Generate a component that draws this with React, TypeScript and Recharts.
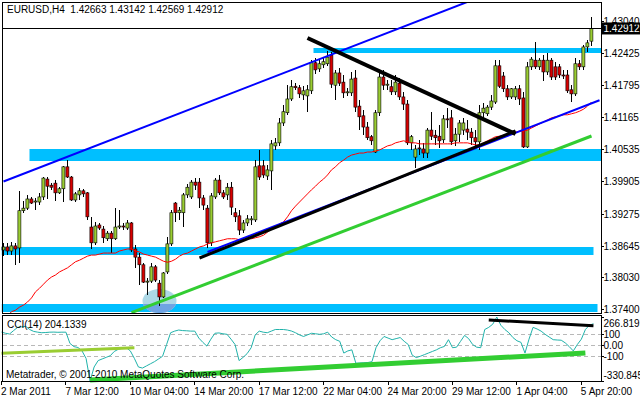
import React from 'react';
import {
  ComposedChart,
  Bar,
  Line,
  XAxis,
  YAxis,
  ReferenceLine,
  ReferenceArea,
  ReferenceDot,
} from 'recharts';

// EURUSD H4 candles, 2 Mar - 5 Apr 2011 (one entry per bar)
const opens = [
  1.3857, 1.3863, 1.3855, 1.3865, 1.3861, 1.3934, 1.3939, 1.3957, 1.3951, 1.3951,
  1.3961, 1.3996, 1.3984, 1.3988, 1.3969, 1.3977, 1.4020, 1.4000, 1.3955, 1.3965,
  1.3973, 1.3969, 1.3902, 1.3871, 1.3906, 1.3898, 1.3879, 1.3890, 1.3879, 1.3902,
  1.3904, 1.3900, 1.3910, 1.3859, 1.3843, 1.3828, 1.3794, 1.3796, 1.3824, 1.3792,
  1.3765, 1.3814, 1.3869, 1.3949, 1.3930, 1.3930, 1.3965, 1.3961, 1.3990, 1.3990,
  1.3959, 1.3939, 1.3871, 1.3961, 1.3994, 1.3969, 1.3965, 1.3980, 1.3930, 1.3924,
  1.3896, 1.3910, 1.3916, 1.3916, 1.4022, 1.4022, 1.4002, 1.4012, 1.4061, 1.4067,
  1.4106, 1.4126, 1.4153, 1.4178, 1.4175, 1.4161, 1.4159, 1.4169, 1.4224, 1.4212,
  1.4220, 1.4222, 1.4239, 1.4180, 1.4204, 1.4186, 1.4165, 1.4165, 1.4194, 1.4139,
  1.4120, 1.4098, 1.4079, 1.4049, 1.4126, 1.4196, 1.4180, 1.4177, 1.4167, 1.4184,
  1.4157, 1.4143, 1.4067, 1.4039, 1.4057, 1.4055, 1.4047, 1.4092, 1.4082, 1.4080,
  1.4073, 1.4114, 1.4116, 1.4071, 1.4084, 1.4092, 1.4094, 1.4088, 1.4077, 1.4069,
  1.4126, 1.4124, 1.4137, 1.4147, 1.4218, 1.4198, 1.4173, 1.4157, 1.4157, 1.4173,
  1.4155, 1.4059, 1.4216, 1.4229, 1.4216, 1.4229, 1.4206, 1.4229, 1.4216, 1.4216,
  1.4200, 1.4200, 1.4171, 1.4163, 1.4222, 1.4216, 1.4255, 1.42663,
];
const highs = [
  1.3871, 1.3871, 1.3873, 1.3871, 1.3973, 1.3953, 1.3965, 1.3961, 1.3959, 1.3969,
  1.4000, 1.4000, 1.3988, 1.3994, 1.3980, 1.4022, 1.4033, 1.4002, 1.3971, 1.3979,
  1.3977, 1.3971, 1.3922, 1.3912, 1.3910, 1.3904, 1.3894, 1.3894, 1.3939, 1.3935,
  1.3910, 1.3916, 1.3912, 1.3867, 1.3851, 1.3832, 1.3802, 1.3832, 1.3828, 1.3798,
  1.3814, 1.3883, 1.3935, 1.3951, 1.3941, 1.3969, 1.3986, 1.3994, 1.3998, 1.3998,
  1.3965, 1.3945, 1.3969, 1.3998, 1.4004, 1.3975, 1.3988, 1.3990, 1.3939, 1.3935,
  1.3916, 1.3926, 1.3924, 1.4033, 1.4053, 1.4033, 1.4024, 1.4073, 1.4077, 1.4116,
  1.4141, 1.4180, 1.4190, 1.4184, 1.4180, 1.4178, 1.4180, 1.4229, 1.4233, 1.4229,
  1.4233, 1.4247, 1.4245, 1.4210, 1.4214, 1.4200, 1.4175, 1.4206, 1.4210, 1.4151,
  1.4131, 1.4108, 1.4082, 1.4131, 1.4210, 1.4210, 1.4190, 1.4190, 1.4200, 1.4194,
  1.4167, 1.4151, 1.4082, 1.4063, 1.4073, 1.4067, 1.4096, 1.4128, 1.4092, 1.4102,
  1.4122, 1.4135, 1.4131, 1.4096, 1.4112, 1.4116, 1.4112, 1.4096, 1.4092, 1.4141,
  1.4145, 1.4141, 1.4161, 1.4229, 1.4229, 1.4206, 1.4180, 1.4175, 1.4178, 1.4180,
  1.4167, 1.4226, 1.4235, 1.4265, 1.4233, 1.4239, 1.4243, 1.4233, 1.4226, 1.4222,
  1.4210, 1.4210, 1.4180, 1.4233, 1.4229, 1.4259, 1.4269, 1.43142,
];
const lows = [
  1.3845, 1.3847, 1.3847, 1.3828, 1.3832, 1.3930, 1.3935, 1.3947, 1.3935, 1.3945,
  1.3955, 1.3957, 1.3975, 1.3953, 1.3967, 1.3951, 1.3998, 1.3953, 1.3951, 1.3955,
  1.3961, 1.3916, 1.3859, 1.3867, 1.3896, 1.3871, 1.3875, 1.3851, 1.3877, 1.3898,
  1.3896, 1.3896, 1.3853, 1.3822, 1.3788, 1.3792, 1.3769, 1.3792, 1.3794, 1.3747,
  1.3763, 1.3810, 1.3865, 1.3912, 1.3916, 1.3902, 1.3959, 1.3957, 1.3975, 1.3939,
  1.3935, 1.3861, 1.3865, 1.3957, 1.3965, 1.3957, 1.3955, 1.3926, 1.3912, 1.3886,
  1.3890, 1.3904, 1.3906, 1.3912, 1.3994, 1.3998, 1.3994, 1.3975, 1.4053, 1.4061,
  1.4100, 1.4122, 1.4149, 1.4171, 1.4155, 1.4151, 1.4128, 1.4163, 1.4202, 1.4206,
  1.4214, 1.4218, 1.4175, 1.4151, 1.4178, 1.4155, 1.4159, 1.4159, 1.4128, 1.4092,
  1.4082, 1.4073, 1.4063, 1.4047, 1.4120, 1.4171, 1.4171, 1.4161, 1.4161, 1.4151,
  1.4131, 1.4063, 1.4053, 1.4018, 1.4043, 1.4037, 1.4037, 1.4073, 1.4063, 1.4057,
  1.4067, 1.4096, 1.4063, 1.4061, 1.4069, 1.4082, 1.4073, 1.4063, 1.4057, 1.4053,
  1.4116, 1.4120, 1.4131, 1.4143, 1.4175, 1.4167, 1.4151, 1.4153, 1.4151, 1.4141,
  1.4057, 1.4057, 1.4210, 1.4212, 1.4210, 1.4188, 1.4200, 1.4190, 1.4190, 1.4194,
  1.4192, 1.4165, 1.4147, 1.4159, 1.4210, 1.4210, 1.4245, 1.42569,
];
const closes = [
  1.3863, 1.3855, 1.3865, 1.3859, 1.3934, 1.3939, 1.3957, 1.3949, 1.3953, 1.3961,
  1.3998, 1.3982, 1.3980, 1.3969, 1.3977, 1.4020, 1.4000, 1.3955, 1.3967, 1.3973,
  1.3967, 1.3922, 1.3871, 1.3904, 1.3900, 1.3881, 1.3890, 1.3879, 1.3902, 1.3904,
  1.3902, 1.3910, 1.3857, 1.3843, 1.3828, 1.3794, 1.3796, 1.3824, 1.3798, 1.3765,
  1.3812, 1.3869, 1.3930, 1.3930, 1.3935, 1.3965, 1.3980, 1.3990, 1.3984, 1.3959,
  1.3945, 1.3871, 1.3963, 1.3994, 1.3969, 1.3961, 1.3980, 1.3941, 1.3922, 1.3896,
  1.3910, 1.3918, 1.3918, 1.4020, 1.4000, 1.4004, 1.4014, 1.4065, 1.4067, 1.4106,
  1.4128, 1.4153, 1.4177, 1.4175, 1.4163, 1.4169, 1.4171, 1.4224, 1.4210, 1.4222,
  1.4226, 1.4235, 1.4182, 1.4204, 1.4184, 1.4165, 1.4167, 1.4192, 1.4137, 1.4118,
  1.4098, 1.4077, 1.4071, 1.4126, 1.4196, 1.4180, 1.4182, 1.4167, 1.4186, 1.4157,
  1.4143, 1.4067, 1.4079, 1.4055, 1.4056, 1.4047, 1.4092, 1.4080, 1.4077, 1.4071,
  1.4114, 1.4113, 1.4069, 1.4084, 1.4106, 1.4106, 1.4088, 1.4077, 1.4069, 1.4126,
  1.4135, 1.4137, 1.4149, 1.4218, 1.4178, 1.4173, 1.4157, 1.4173, 1.4173, 1.4153,
  1.4059, 1.4216, 1.4231, 1.4216, 1.4229, 1.4206, 1.4229, 1.4196, 1.4196, 1.4200,
  1.4198, 1.4169, 1.4163, 1.4222, 1.4216, 1.4255, 1.4263, 1.42912,
];
// red moving average
const movingAvg = [
  1.3720, 1.3728, 1.3736, 1.3739, 1.3745, 1.3749, 1.3755, 1.3763, 1.3775, 1.3782,
  1.3790, 1.3798, 1.3804, 1.3808, 1.3814, 1.3818, 1.3822, 1.3828, 1.3834, 1.3837,
  1.3841, 1.3845, 1.3847, 1.3847, 1.3849, 1.3851, 1.3851, 1.3851, 1.3851, 1.3855,
  1.3857, 1.3859, 1.3859, 1.3855, 1.3853, 1.3849, 1.3847, 1.3845, 1.3843, 1.3839,
  1.3835, 1.3833, 1.3835, 1.3839, 1.3845, 1.3849, 1.3851, 1.3855, 1.3859, 1.3863,
  1.3865, 1.3869, 1.3871, 1.3873, 1.3875, 1.3877, 1.3879, 1.3879, 1.3879, 1.3877,
  1.3877, 1.3879, 1.3879, 1.3881, 1.3883, 1.3886, 1.3892, 1.3898, 1.3904, 1.3908,
  1.3912, 1.3922, 1.3934, 1.3943, 1.3951, 1.3959, 1.3967, 1.3975, 1.3982, 1.3990,
  1.3996, 1.4004, 1.4014, 1.4020, 1.4028, 1.4033, 1.4039, 1.4043, 1.4045, 1.4047,
  1.4047, 1.4049, 1.4049, 1.4051, 1.4053, 1.4057, 1.4061, 1.4063, 1.4067, 1.4069,
  1.4071, 1.4069, 1.4067, 1.4067, 1.4065, 1.4065, 1.4065, 1.4065, 1.4065, 1.4065,
  1.4065, 1.4065, 1.4065, 1.4067, 1.4067, 1.4067, 1.4067, 1.4065, 1.4063, 1.4063,
  1.4067, 1.4071, 1.4075, 1.4079, 1.4080, 1.4082, 1.4084, 1.4086, 1.4088, 1.4090,
  1.4090, 1.4092, 1.4096, 1.4100, 1.4104, 1.4108, 1.4112, 1.4116, 1.4118, 1.4120,
  1.4122, 1.4122, 1.4124, 1.4126, 1.4129, 1.4133, 1.4139, 1.4147,
];
// CCI(14)
const cciValues = [
  126, 115, 108, 140, 170, 175, 180, 150, 132, 125,
  120, 122, 125, 126, 124, 125, 125, 20, -10, -18,
  -50, -120, -330.845, -200, -140, -125, -110, -95, -55, -35,
  -25, -20, -50, -120, -200, -210, -190, -170, -150, -125,
  -100, 10, 120, 135, 145, 140, 138, 135, 135, 70,
  30, -5, 60, 115, 118, 110, 105, 60, 10, -140,
  -110, -75, -20, 100, 135, 125, 120, 135, 150, 150,
  150, 145, 136, 120, 100, 85, 100, 115, 110, 105,
  110, 125, 80, 55, 40, -70, -50, -40, -165, -162,
  -160, -158, -150, -20, 45, 85, 70, 55, 65, 75,
  40, 10, -90, -112, -100, -85, -70, -55, -40, -20,
  -8, 55, -20, -15, 40, 95, 65, 10, -15, -20,
  150, 170, 200, 266.8193, 190, 150, 120, 75, 45, 30,
  -70, 60, 170, 155, 135, 105, 80, 55, 52, 50,
  25, -10, -50, 10, 60, 150, 190, 204.1339,
];

const priceTicks = [1.4304, 1.42425, 1.41795, 1.41165, 1.40535, 1.39905, 1.39275, 1.38645, 1.3803, 1.374];
const cciTicks = [266.8193, 100, 0, -100, -330.845];
const cciLevels = [100, 0, -100];
const timeTickBars = [0, 16, 32, 48, 64, 80, 96, 112, 128, 144];
const timeLabels = [
  '2 Mar 2011', '7 Mar 12:00', '10 Mar 04:00', '14 Mar 20:00', '17 Mar 12:00',
  '22 Mar 04:00', '24 Mar 20:00', '29 Mar 12:00', '1 Apr 04:00', '5 Apr 20:00',
];
const lastClose = 1.42912;

// support / resistance zones: [first bar, last bar, upper price, lower price]
const zones = [
  [78, 149, 1.42529, 1.42431],
  [7, 149, 1.4055, 1.40314],
  [0, 147, 1.38629, 1.38472],
  [0, 148, 1.37512, 1.37355],
];
// drawn trend lines, endpoints as [bar, price]
const channelTop = [[0, 1.39913], [149, 1.44434]];
const channelBottom = [[51, 1.38531], [149, 1.41504]];
const triangleSupport = [[49, 1.38413], [128, 1.40903]];
const triangleResistance = [[76, 1.42725], [128, 1.40844]];
const longSupport = [[32, 1.37343], [147, 1.40804]];
const lowMarker = [39, 1.3757];
// trend lines drawn on the CCI window, [bar, cci]
const cciLeft = [[0, -72], [33, -20]];
const cciSupport = [[22, -321], [145, -69]];
const cciTop = [[121, 239], [147, 186]];

const N_SLOTS = 150;
const rows = Array.from({ length: N_SLOTS }, (_, i) => ({
  i,
  o: opens[i],
  h: highs[i],
  l: lows[i],
  c: closes[i],
  ma: movingAvg[i] ?? null,
  cci: cciValues[i] ?? null,
}));

const seg = (pts: number[][]) => pts.map(([x, y]) => ({ x, y }));

const FONT = '"Liberation Sans", Arial, sans-serif';

const Candle = (props: any) => {
  const { x, y, width, height, payload } = props;
  if (!payload || payload.h == null) return null;
  const top = Math.min(y, y + height);
  const bottom = Math.max(y, y + height);
  const k = payload.h === payload.l ? 0 : (bottom - top) / (payload.h - payload.l);
  const cx = x + width / 2;
  const yo = top + (payload.h - payload.o) * k;
  const yc = top + (payload.h - payload.c) * k;
  const up = payload.c >= payload.o;
  return (
    <g>
      <line x1={cx} x2={cx} y1={top} y2={bottom} stroke="#000" shapeRendering="crispEdges" />
      <rect
        x={cx - 1.5}
        y={Math.min(yo, yc)}
        width={3}
        height={Math.max(1, Math.abs(yo - yc))}
        fill={up ? '#9ACD32' : '#D80000'}
        stroke="#000"
        strokeWidth={0.6}
      />
    </g>
  );
};

const Blob = (props: any) => {
  const { cx, cy } = props;
  if (cx == null) return null;
  return (
    <g>
      <defs>
        <clipPath id="blob-low">
          <rect x={cx - 20} y={cy + 3} width={40} height={20} />
        </clipPath>
      </defs>
      <ellipse cx={cx} cy={cy} rx={17} ry={12} fill="#ADD8E6" />
      <ellipse cx={cx} cy={cy} rx={17} ry={12} fill="#6FA3E3" clipPath="url(#blob-low)" />
    </g>
  );
};

const PriceTick = (props: any) => {
  const { x, y, payload } = props;
  return (
    <text x={x} y={y} dy="0.35em" fontSize={10} fontFamily={FONT} fill="#000" textAnchor="start">
      {Number(payload.value).toFixed(5)}
    </text>
  );
};

const PriceTag = (props: any) => {
  const vb = props.viewBox;
  if (!vb) return null;
  const xr = vb.x + vb.width;
  return (
    <g>
      <rect x={xr} y={vb.y - 6} width={40} height={12} fill="#000" />
      <text x={xr + 2} y={vb.y} dy="0.35em" fontSize={10} fontFamily={FONT} fill="#fff">
        {lastClose.toFixed(5)}
      </text>
    </g>
  );
};

const cciLabel = (v: number) => {
  if (v === 0) return '0.00';
  return String(v);
};

const CciTick = (props: any) => {
  const { x, y, payload } = props;
  const v = payload.value;
  const shift = v === cciTicks[0] ? 6 : v === cciTicks[cciTicks.length - 1] ? -6 : 0;
  return (
    <text x={x} y={y + shift} dy="0.35em" fontSize={10} fontFamily={FONT} fill="#000" textAnchor="start">
      {cciLabel(v)}
    </text>
  );
};

const TimeTick = (props: any) => {
  const { x, y, payload } = props;
  const idx = timeTickBars.indexOf(payload.value);
  if (idx < 0) return null;
  return (
    <text x={x - 0.5} y={y + 10} fontSize={10} fontFamily={FONT} fill="#000" textAnchor="start">
      {timeLabels[idx]}
    </text>
  );
};

const textStyle: React.CSSProperties = {
  position: 'absolute',
  fontFamily: FONT,
  fontSize: 10,
  lineHeight: '12px',
  color: '#000',
  whiteSpace: 'pre',
  pointerEvents: 'none',
};

export default function App() {
  return (
    <div
      style={{
        position: 'absolute',
        left: 0,
        top: 0,
        width: 640,
        height: 400,
        background: '#fff',
        overflow: 'hidden',
      }}
    >
      <div style={{ position: 'absolute', left: 0, top: 0 }}>
        <ComposedChart
          width={640}
          height={314}
          data={rows}
          margin={{ top: 3, right: 0, bottom: 1, left: 1.5 }}
        >
          <XAxis dataKey="i" type="category" hide />
          <YAxis
            orientation="right"
            type="number"
            domain={[1.37335, 1.43411]}
            allowDataOverflow
            ticks={priceTicks}
            interval={0}
            width={38.5}
            axisLine={false}
            tickSize={2}
            tickMargin={0}
            tickLine={{ stroke: '#000', shapeRendering: 'crispEdges' }}
            tick={<PriceTick />}
          />
          {zones.map(([a, b, top, bot], k) => (
            <ReferenceArea
              key={`zone-${k}`}
              x1={a}
              x2={b}
              y1={bot}
              y2={top}
              fill="#00BFFF"
              fillOpacity={1}
              stroke="none"
              ifOverflow="hidden"
              zIndex={50}
            />
          ))}
          <ReferenceDot
            x={lowMarker[0]}
            y={lowMarker[1]}
            r={12}
            shape={(p: any) => <Blob {...p} />}
            ifOverflow="hidden"
            zIndex={60}
          />
          <Bar
            dataKey={(d: any) => (d.h == null ? null : [d.l, d.h])}
            shape={(p: any) => <Candle {...p} />}
            isAnimationActive={false}
            zIndex={300}
          />
          <Line
            dataKey="ma"
            stroke="#FF0000"
            strokeWidth={1}
            dot={false}
            activeDot={false}
            isAnimationActive={false}
            zIndex={400}
          />
          <ReferenceLine
            y={lastClose}
            stroke="#000"
            strokeWidth={1}
            shapeRendering="crispEdges"
            label={<PriceTag />}
            zIndex={420}
          />
          <ReferenceLine segment={seg(channelTop)} stroke="#0000FF" strokeWidth={2} ifOverflow="hidden" zIndex={440} />
          <ReferenceLine segment={seg(channelBottom)} stroke="#0000FF" strokeWidth={2} ifOverflow="hidden" zIndex={440} />
          <ReferenceLine segment={seg(triangleSupport)} stroke="#000" strokeWidth={3} ifOverflow="hidden" zIndex={450} />
          <ReferenceLine segment={seg(triangleResistance)} stroke="#000" strokeWidth={4} ifOverflow="hidden" zIndex={450} />
          <ReferenceLine segment={seg(longSupport)} stroke="#32CD32" strokeWidth={3} ifOverflow="hidden" zIndex={450} />
        </ComposedChart>
      </div>

      <div style={{ position: 'absolute', left: 0, top: 314 }}>
        <ComposedChart
          width={640}
          height={86}
          data={rows}
          margin={{ top: 3, right: 0, bottom: 0, left: 1.5 }}
        >
          <XAxis
            dataKey="i"
            type="category"
            ticks={timeTickBars}
            interval={0}
            height={19}
            axisLine={false}
            tickSize={4}
            tickMargin={0}
            tickLine={{ stroke: '#000', shapeRendering: 'crispEdges' }}
            tick={<TimeTick />}
          />
          <YAxis
            orientation="right"
            type="number"
            domain={[-330.845, 266.8193]}
            allowDataOverflow
            ticks={cciTicks}
            interval={0}
            width={38.5}
            axisLine={false}
            tickSize={2}
            tickMargin={0}
            tickLine={{ stroke: '#000', shapeRendering: 'crispEdges' }}
            tick={<CciTick />}
          />
          {cciLevels.map((v) => (
            <ReferenceLine
              key={`lvl-${v}`}
              y={v}
              stroke="#B8B8B8"
              strokeDasharray="4 3"
              shapeRendering="crispEdges"
              zIndex={50}
            />
          ))}
          <Line
            dataKey="cci"
            stroke="#20B2AA"
            strokeWidth={1}
            dot={false}
            activeDot={false}
            isAnimationActive={false}
            zIndex={400}
          />
          <ReferenceLine segment={seg(cciLeft)} stroke="#9ACD32" strokeWidth={3} ifOverflow="visible" zIndex={450} />
          <ReferenceLine segment={seg(cciSupport)} stroke="#32CD32" strokeWidth={5} ifOverflow="visible" zIndex={450} />
          <ReferenceLine segment={seg(cciTop)} stroke="#000" strokeWidth={3} ifOverflow="visible" zIndex={450} />
        </ComposedChart>
      </div>

      {/* window frames */}
      <div
        style={{
          position: 'absolute',
          left: 2,
          top: 2,
          width: 598,
          height: 310,
          border: '1px solid #000',
          pointerEvents: 'none',
        }}
      />
      <div
        style={{
          position: 'absolute',
          left: 2,
          top: 315,
          width: 598,
          height: 65,
          border: '1px solid #000',
          pointerEvents: 'none',
        }}
      />

      <div style={{ ...textStyle, left: 7, top: 4 }}>EURUSD,H4  1.42663 1.43142 1.42569 1.42912</div>
      <div style={{ ...textStyle, left: 7, top: 319 }}>CCI(14) 204.1339</div>
      <div style={{ ...textStyle, left: 6, top: 369 }}>Metatrader, © 2001-2010 MetaQuotes Software Corp.</div>
    </div>
  );
}
